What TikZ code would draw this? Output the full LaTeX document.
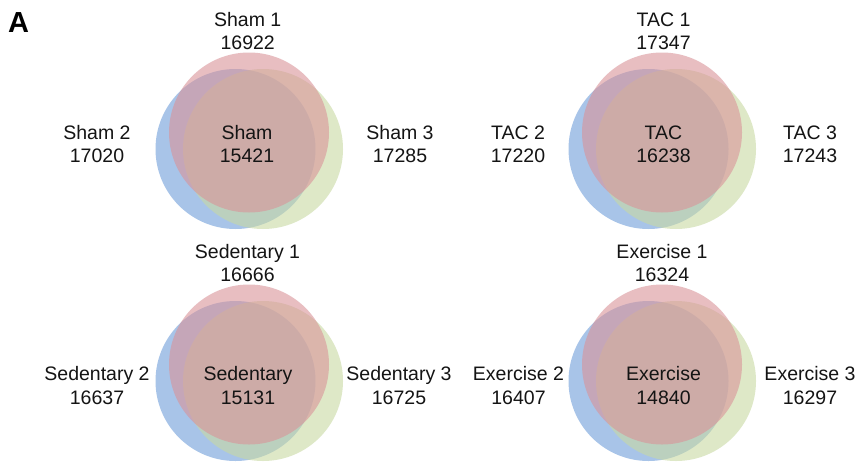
\documentclass[tikz,border=0pt]{standalone}
\usepackage{fontspec}
\setmainfont{Liberation Sans}
\definecolor{vblue}{RGB}{110,157,217}
\definecolor{vgreen}{RGB}{200,217,163}
\definecolor{vred}{RGB}{217,147,153}
\definecolor{txt}{RGB}{20,20,20}
\tikzset{
  vcirc/.style={fill opacity=0.6, draw=none},
  lbl/.style={font=\fontsize{19.5}{23}\selectfont, anchor=base, inner sep=0pt, text=txt},
  panellbl/.style={font=\fontsize{29}{30}\bfseries\selectfont, anchor=base west, inner sep=0pt, text=black},
}
% three-circle Venn panel, red circle centred at (#1,#2)
\newcommand{\VennPanel}[2]{%
  \fill[vcirc, vblue]  (#1-13.5,#2+16.5) circle (80);
  \fill[vcirc, vgreen] (#1+14,#2+16.5) circle (80);
  \fill[vcirc, vred]   (#1,#2) circle (80);
}
% two-line label: name, x, baseline y, line 1, line 2
\newcommand{\TwoLine}[5]{%
  \node[lbl] (#1a) at (#2,#3) {#4};
  \node[lbl] (#1b) at (#2,#3+23.4) {#5};
}
\begin{document}
\begin{tikzpicture}[x=1pt,y=-1pt]
  \fill[white] (0,0) rectangle (866,471);
  \useasboundingbox (0,0) rectangle (866,471);

  \node[panellbl] (A) at (8,32) {A};

  % panels
  \VennPanel{249}{132.5}
  \VennPanel{662}{132.5}
  \VennPanel{249}{364.5}
  \VennPanel{662}{364.5}

  % Sham
  \TwoLine{sham1}{247.7}{26}{Sham 1}{16922}
  \TwoLine{sham2}{97}{139.3}{Sham 2}{17020}
  \TwoLine{sham3}{400}{139.3}{Sham 3}{17285}
  \TwoLine{sham}{247}{139.3}{Sham}{15421}

  % TAC
  \TwoLine{tac1}{663.5}{26}{TAC 1}{17347}
  \TwoLine{tac2}{518}{139.3}{TAC 2}{17220}
  \TwoLine{tac3}{810}{139.3}{TAC 3}{17243}
  \TwoLine{tac}{663.5}{139.3}{TAC}{16238}

  % Sedentary
  \TwoLine{sed1}{247.5}{258.3}{Sedentary 1}{16666}
  \TwoLine{sed2}{97}{380.7}{Sedentary 2}{16637}
  \TwoLine{sed3}{399}{380.7}{Sedentary 3}{16725}
  \TwoLine{sed}{248}{380.7}{Sedentary}{15131}

  % Exercise
  \TwoLine{ex1}{662}{258.3}{Exercise 1}{16324}
  \TwoLine{ex2}{518.5}{380.7}{Exercise 2}{16407}
  \TwoLine{ex3}{810}{380.7}{Exercise 3}{16297}
  \TwoLine{ex}{663.5}{380.7}{Exercise}{14840}
\end{tikzpicture}
\end{document}
